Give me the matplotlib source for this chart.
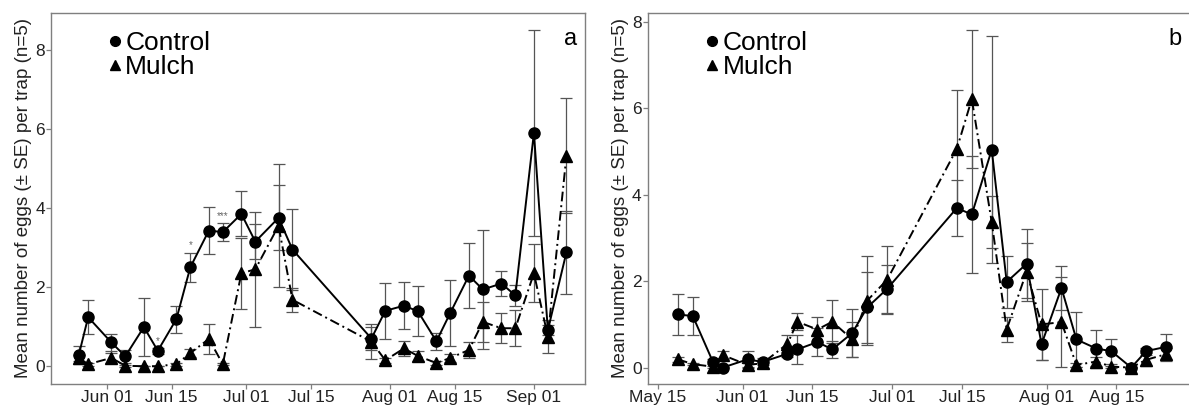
import datetime as dt
import matplotlib
matplotlib.use("Agg")
import matplotlib.pyplot as plt
import matplotlib.dates as mdates
from matplotlib.lines import Line2D

plt.rcParams['font.family'] = ['Liberation Sans', 'DejaVu Sans']

# ---- panel a data ----
dates_a = ["05-26", "05-28", "06-02", "06-05", "06-09", "06-12", "06-16", "06-19", "06-23",
           "06-26", "06-30", "07-03", "07-08", "07-11", "07-28", "07-31", "08-04", "08-07",
           "08-11", "08-14", "08-18", "08-21", "08-25", "08-28", "09-01", "09-04", "09-08"]
control_a = [0.29, 1.24, 0.6, 0.25, 0.99, 0.39, 1.19, 2.5, 3.43, 3.39, 3.85, 3.15, 3.75, 2.95,
             0.7, 1.4, 1.53, 1.39, 0.63, 1.35, 2.29, 1.94, 2.09, 1.79, 5.9, 0.91, 2.88]
control_a_se = [0.23, 0.43, 0.22, 0.16, 0.74, 0.07, 0.34, 0.37, 0.6, 0.22, 0.57, 0.45, 0.82,
                1.03, 0.3, 0.7, 0.6, 0.63, 0.22, 0.83, 0.82, 1.5, 0.31, 0.27, 2.6, 0.13, 1.05]
mulch_a = [0.2, 0.05, 0.21, 0.01, 0.0, 0.0, 0.05, 0.33, 0.69, 0.05, 2.35, 2.45, 3.55, 1.68,
           0.62, 0.15, 0.45, 0.26, 0.08, 0.21, 0.41, 1.12, 0.96, 0.96, 2.35, 0.75, 5.32]
mulch_a_se = [0.08, 0.04, 0.12, 0.02, 0.0, 0.0, 0.04, 0.1, 0.37, 0.02, 0.9, 1.45, 1.55, 0.3,
              0.45, 0.06, 0.19, 0.12, 0.06, 0.1, 0.2, 0.5, 0.38, 0.45, 0.73, 0.42, 1.45]
stars_a = [("06-12", 0.5, "*"), ("06-19", 2.93, "*"), ("06-26", 3.68, "***")]

# ---- panel b data ----
dates_b = ["05-19", "05-22", "05-26", "05-28", "06-02", "06-05", "06-10", "06-12", "06-16",
           "06-19", "06-23", "06-26", "06-30", "07-14", "07-17", "07-21", "07-24", "07-28",
           "07-31", "08-04", "08-07", "08-11", "08-14", "08-18", "08-21", "08-25"]
control_b = [1.23, 1.19, 0.14, 0.0, 0.19, 0.13, 0.32, 0.42, 0.59, 0.42, 0.8, 1.39, 1.82, 3.69,
             3.54, 5.04, 1.98, 2.4, 0.54, 1.84, 0.65, 0.44, 0.38, 0.0, 0.38, 0.48]
control_b_se = [0.48, 0.44, 0.05, 0.02, 0.19, 0.08, 0.08, 0.33, 0.33, 0.19, 0.55, 0.83, 0.55,
                0.65, 1.35, 2.63, 0.6, 0.8, 0.36, 0.52, 0.64, 0.44, 0.29, 0.02, 0.08, 0.3]
mulch_b = [0.19, 0.08, 0.02, 0.29, 0.06, 0.1, 0.55, 1.06, 0.88, 1.06, 0.65, 1.55, 2.03, 5.06,
           6.21, 3.36, 0.88, 2.22, 1.0, 1.05, 0.06, 0.14, 0.02, 0.0, 0.18, 0.31]
mulch_b_se = [0.05, 0.03, 0.02, 0.1, 0.04, 0.1, 0.2, 0.2, 0.3, 0.5, 0.4, 1.02, 0.79, 1.37,
              1.6, 0.6, 0.3, 0.67, 0.82, 1.04, 0.05, 0.1, 0.02, 0.02, 0.15, 0.15]

ticks_a = ["06-01", "06-15", "07-01", "07-15", "08-01", "08-15", "09-01"]
ticks_b = ["05-15", "06-01", "06-15", "07-01", "07-15", "08-01", "08-15"]


def d(s):
    m, day = s.split("-")
    return dt.datetime(2017, int(m), int(day))


def todates(lst):
    return [d(s) for s in lst]


ylab = "Mean number of eggs (\u00b1 SE) per trap (n=5)"
grey = "#7f7f7f"
ebc = "#555555"


def panel(ax, dates, ctl, ctl_se, mul, mul_se, ticks, xlim, ylim, tag, tagx):
    x = todates(dates)
    ax.errorbar(x, ctl, yerr=ctl_se, fmt="none", ecolor=ebc, elinewidth=0.9, capsize=4.5,
                capthick=0.9, zorder=2)
    ax.errorbar(x, mul, yerr=mul_se, fmt="none", ecolor=ebc, elinewidth=0.9, capsize=4.5,
                capthick=0.9, zorder=2)
    ax.plot(x, ctl, color="black", lw=1.4, marker="o", ms=8, zorder=3)
    ax.plot(x, mul, color="black", lw=1.4, marker="^", ms=8.5, dashes=(5, 2, 1, 2), zorder=3)
    ax.set_xlim(todates(xlim))
    ax.set_ylim(ylim)
    ax.set_xticks(todates(ticks))
    ax.xaxis.set_major_formatter(mdates.DateFormatter("%b %d"))
    ax.set_yticks([0, 2, 4, 6, 8])
    for s in ax.spines.values():
        s.set_color(grey)
        s.set_linewidth(1.0)
    ax.tick_params(colors=grey, length=3.5, width=0.9, labelsize=12.5, labelcolor="#222222",
                   pad=1)
    ax.set_ylabel(ylab, fontsize=13.5, color="#222222", labelpad=2)
    ax.text(tagx, 0.96, tag, transform=ax.transAxes, ha="right", va="top", fontsize=17)
    handles = [Line2D([], [], color="black", marker="o", ls="none", ms=7),
               Line2D([], [], color="black", marker="^", ls="none", ms=7.5)]
    ax.legend(handles, ["Control", "Mulch"], loc="upper left", bbox_to_anchor=(0.07, 1.0),
              frameon=False, fontsize=19, handlelength=0.6, handletextpad=0.1,
              labelspacing=0.0, borderpad=0.2)


fig = plt.figure(figsize=(11.89, 4.09), dpi=100)
ax1 = fig.add_axes([51 / 1189, 25 / 409, 534 / 1189, 371 / 409])
ax2 = fig.add_axes([648 / 1189, 25 / 409, 543 / 1189, 371 / 409])

panel(ax1, dates_a, control_a, control_a_se, mulch_a, mulch_a_se, ticks_a,
      ["05-20", "09-12"], (-0.45, 8.93), "a", 0.985)
for day, yv, txt in stars_a:
    ax1.text(d(day), yv, txt, ha="center", va="bottom", fontsize=7, color="#666666")

panel(ax2, dates_b, control_b, control_b_se, mulch_b, mulch_b_se, ticks_b,
      ["05-13", "08-30"], (-0.38, 8.2), "b", 0.982)

fig.savefig("out.png", dpi=100)
